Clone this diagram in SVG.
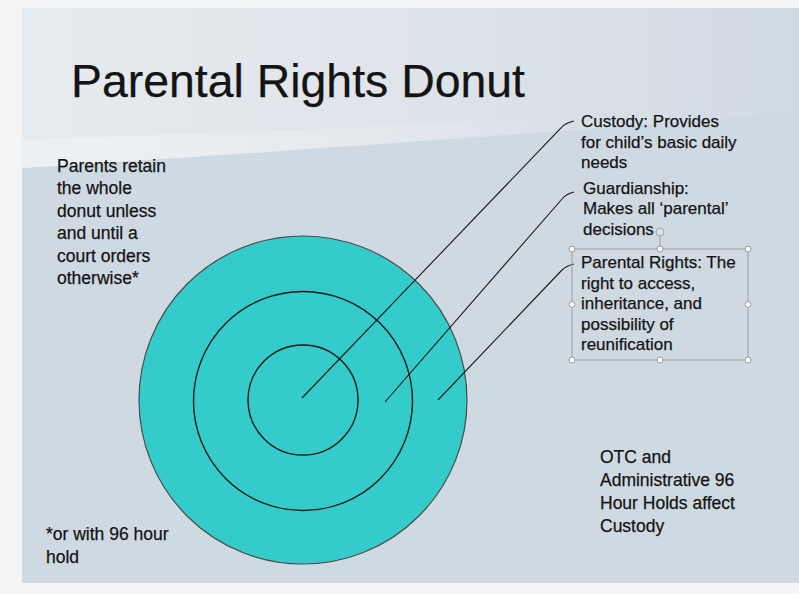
<svg xmlns="http://www.w3.org/2000/svg" width="799" height="594" viewBox="0 0 799 594">
  <defs>
    <linearGradient id="topGrad" x1="0" y1="0" x2="1" y2="0">
      <stop offset="0" stop-color="#e6ebef"/>
      <stop offset="0.45" stop-color="#dfe5ea"/>
      <stop offset="1" stop-color="#d0dae3"/>
    </linearGradient>
    <linearGradient id="bandGrad" x1="0" y1="0" x2="1" y2="0">
      <stop offset="0" stop-color="#eef1f4" stop-opacity="0.9"/>
      <stop offset="1" stop-color="#eef1f4" stop-opacity="0"/>
    </linearGradient>
    <style>
      .t { font-family: "Liberation Sans", Arial, sans-serif; fill: #141414; stroke: #141414; stroke-width: 0.25; }
      .body { font-size: 17.5px; }
      .lab { font-size: 17px; }
      .ring { fill: none; stroke: #1a1a1a; stroke-width: 1.4; }
      .conn { fill: none; stroke: #1a1a1a; stroke-width: 1.1; }
      .handle { fill: #ffffff; stroke: #9a9a9a; stroke-width: 1; }
    </style>
  </defs>

  <!-- page and slide background -->
  <rect x="0" y="0" width="799" height="594" fill="#f4f4f4"/>
  <rect x="22" y="8" width="777" height="575" fill="#cfd9e2"/>
  <path d="M22,8 H799 V112 C620,128 330,148 22,168 Z" fill="url(#topGrad)"/>
  <path d="M22,140 C250,132 420,125 560,118 L560,130 C360,146 200,157 22,168 Z" fill="url(#bandGrad)"/>

  <!-- title -->
  <g id="title">
    <text class="t" x="71" y="97" font-size="46" stroke-width="0.3" textLength="454" lengthAdjust="spacingAndGlyphs">Parental Rights Donut</text>
  </g>

  <!-- donut -->
  <g id="donut">
    <circle cx="303" cy="400" r="164" fill="#33cccb" stroke="#4a4a4a" stroke-width="1.2"/>
    <circle class="ring" cx="303" cy="401" r="109.5"/>
    <circle class="ring" cx="303" cy="400" r="55"/>
  </g>

  <!-- connectors -->
  <g id="connectors">
    <path class="conn" d="M302,398 L561,128 Q565,123 574,121"/>
    <path class="conn" d="M385,402 L562,199 Q566,194 574,192"/>
    <path class="conn" d="M438,400 L562,270 Q566,266 574,264"/>
  </g>

  <!-- left note -->
  <g id="note-parents">
    <text class="t body" x="57" y="172">Parents retain</text>
    <text class="t body" x="57" y="194">the whole</text>
    <text class="t body" x="57" y="216.5">donut unless</text>
    <text class="t body" x="57" y="239">and until a</text>
    <text class="t body" x="57" y="261.5">court orders</text>
    <text class="t body" x="57" y="284">otherwise*</text>
  </g>

  <g id="note-hold">
    <text class="t body" x="46" y="540" font-size="18">*or with 96 hour</text>
    <text class="t body" x="46" y="563" font-size="18">hold</text>
  </g>

  <!-- labels -->
  <g id="label-custody">
    <text class="t lab" x="581" y="127">Custody: Provides</text>
    <text class="t lab" x="581" y="147.5">for child’s basic daily</text>
    <text class="t lab" x="581" y="168">needs</text>
  </g>

  <g id="label-guardianship">
    <text class="t lab" x="583" y="193.5">Guardianship:</text>
    <text class="t lab" x="583" y="214">Makes all ‘parental’</text>
    <text class="t lab" x="583" y="234.5">decisions</text>
  </g>

  <g id="label-parental-rights">
    <rect x="572" y="249" width="176" height="111" fill="none" stroke="#a0a0a0" stroke-width="1"/>
    <line x1="660" y1="236" x2="660" y2="249" stroke="#a0a0a0" stroke-width="1"/>
    <circle cx="660" cy="232" r="4" fill="#dfe3e6" stroke="#a0a0a0" stroke-width="1"/>
    <circle class="handle" cx="572" cy="249" r="3"/>
    <circle class="handle" cx="660" cy="249" r="3"/>
    <circle class="handle" cx="748" cy="249" r="3"/>
    <circle class="handle" cx="572" cy="304.5" r="3"/>
    <circle class="handle" cx="748" cy="304.5" r="3"/>
    <circle class="handle" cx="572" cy="360" r="3"/>
    <circle class="handle" cx="660" cy="360" r="3"/>
    <circle class="handle" cx="748" cy="360" r="3"/>
    <text class="t lab" x="581" y="268">Parental Rights: The</text>
    <text class="t lab" x="581" y="288.5">right to access,</text>
    <text class="t lab" x="581" y="309">inheritance, and</text>
    <text class="t lab" x="581" y="329.5">possibility of</text>
    <text class="t lab" x="581" y="350">reunification</text>
  </g>

  <g id="note-otc">
    <text class="t body" x="600" y="463">OTC and</text>
    <text class="t body" x="600" y="486">Administrative 96</text>
    <text class="t body" x="600" y="509">Hour Holds affect</text>
    <text class="t body" x="600" y="532">Custody</text>
  </g>
</svg>
